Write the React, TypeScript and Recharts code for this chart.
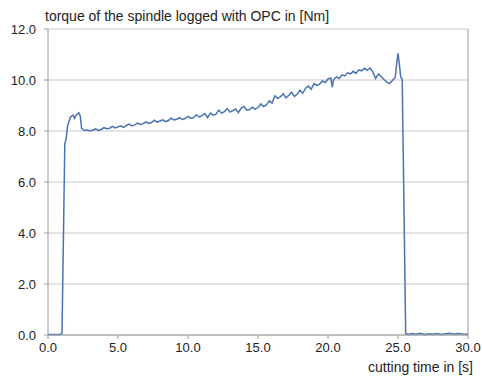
import { LineChart, Line, XAxis, YAxis, CartesianGrid, ReferenceLine } from 'recharts'

const times = [
  0.0, 0.4, 0.8, 1.0, 1.2, 1.3, 1.4, 1.6, 1.8, 1.9, 2.0, 2.2, 2.3, 2.4, 2.6, 2.8,
  3.0, 3.2, 3.4, 3.6, 3.8, 4.0, 4.2, 4.4, 4.6, 4.8, 5.0, 5.2, 5.4, 5.6, 5.8,
  6.0, 6.2, 6.4, 6.6, 6.8, 7.0, 7.2, 7.4, 7.6, 7.8, 8.0, 8.2, 8.4, 8.6, 8.8,
  9.0, 9.2, 9.4, 9.6, 9.8, 10.0, 10.2, 10.4, 10.6, 10.8, 11.0, 11.2, 11.4, 11.6, 11.8,
  12.0, 12.2, 12.4, 12.6, 12.8, 13.0, 13.2, 13.4, 13.6, 13.8, 14.0, 14.2, 14.4, 14.6, 14.8,
  15.0, 15.2, 15.4, 15.6, 15.8, 16.0, 16.2, 16.4, 16.6, 16.8, 17.0, 17.2, 17.4, 17.6, 17.8,
  18.0, 18.2, 18.4, 18.6, 18.8, 19.0, 19.2, 19.4, 19.6, 19.8, 20.0, 20.2, 20.3, 20.4, 20.6, 20.8,
  21.0, 21.2, 21.4, 21.6, 21.8, 22.0, 22.2, 22.4, 22.6, 22.8, 23.0, 23.2, 23.4, 23.6, 23.8,
  24.0, 24.2, 24.4, 24.6, 24.8, 24.9, 25.0, 25.1, 25.2, 25.3, 25.55, 25.8, 26.0, 26.3, 26.6,
  26.9, 27.2, 27.5, 27.8, 28.1, 28.4, 28.7, 29.0, 29.3, 29.6, 30.0,
]

const torque = [
  0.02, 0.02, 0.02, 0.05, 7.5, 7.7, 8.2, 8.55, 8.62, 8.5, 8.62, 8.72, 8.6, 8.1, 8.02, 8.04,
  8.01, 8.03, 8.08, 8.02, 8.06, 8.13, 8.09, 8.11, 8.18, 8.12, 8.16, 8.2, 8.14, 8.22, 8.27,
  8.2, 8.24, 8.31, 8.26, 8.29, 8.36, 8.3, 8.33, 8.42, 8.35, 8.39, 8.44, 8.37, 8.41, 8.5,
  8.43, 8.46, 8.52, 8.45, 8.49, 8.57, 8.5, 8.53, 8.64, 8.55, 8.6, 8.68, 8.52, 8.7, 8.62,
  8.66, 8.82, 8.7, 8.76, 8.88, 8.74, 8.8, 8.86, 8.72, 8.9, 8.96, 8.82, 8.84, 8.93, 8.86,
  8.92, 9.06, 8.96, 9.02, 9.18, 9.1, 9.38, 9.28, 9.34, 9.46, 9.3, 9.4, 9.52, 9.36, 9.44,
  9.6, 9.48, 9.68, 9.76, 9.64, 9.86, 9.78, 9.84, 9.96, 9.9, 10.04, 10.08, 9.72, 10.02, 10.12, 10.06,
  10.2, 10.16, 10.28, 10.24, 10.34, 10.26, 10.4, 10.36, 10.46, 10.38, 10.47, 10.32, 10.06, 10.24, 10.14,
  10.02, 9.92, 9.86, 9.98, 10.1, 10.6, 11.05, 10.6, 10.1, 10.05, 0.05, 0.02, 0.06, 0.03, 0.07,
  0.02, 0.05, 0.03, 0.06, 0.02, 0.05, 0.07, 0.03, 0.06, 0.04, 0.03,
]

const xTicks = [0, 5, 10, 15, 20, 25, 30]
const yTicks = [0, 2, 4, 6, 8, 10, 12]

const data = times.map((t, i) => ({ t, v: torque[i] }))

const font = '"Liberation Sans", Arial, sans-serif'
const tickStyle = { fill: '#222', fontSize: 13, fontFamily: font }

export default function App() {
  return (
    <div style={{ position: 'absolute', left: 0, top: 0, width: 482, height: 376, background: '#fff' }}>
      <LineChart width={482} height={376} data={data} margin={{ top: 29, right: 14, bottom: 21, left: 0 }}>
        <CartesianGrid vertical={false} stroke="#c8c8c8" />
        <XAxis
          dataKey="t"
          type="number"
          domain={[0, 30]}
          ticks={xTicks}
          tickFormatter={(v: number) => v.toFixed(1)}
          tick={tickStyle}
          stroke="#9a9a9a"
          tickSize={4}
          tickMargin={4}
          height={20}
          interval={0}
        />
        <YAxis
          type="number"
          domain={[0, 12]}
          ticks={yTicks}
          tickFormatter={(v: number) => v.toFixed(1)}
          tick={tickStyle}
          stroke="#9a9a9a"
          tickSize={4}
          tickMargin={8}
          width={48}
          interval={0}
        />
        <ReferenceLine x={30} stroke="#9a9a9a" />
        <Line
          type="linear"
          dataKey="v"
          stroke="#4a73b3"
          strokeWidth={1.5}
          dot={false}
          isAnimationActive={false}
        />
      </LineChart>
      <div style={{ position: 'absolute', left: 45, top: 8, fontSize: 14, fontFamily: font, color: '#222', whiteSpace: 'nowrap' }}>
        torque of the spindle logged with OPC in [Nm]
      </div>
      <div style={{ position: 'absolute', right: 9, top: 359, fontSize: 14, fontFamily: font, color: '#222', whiteSpace: 'nowrap' }}>
        cutting time in [s]
      </div>
    </div>
  )
}
